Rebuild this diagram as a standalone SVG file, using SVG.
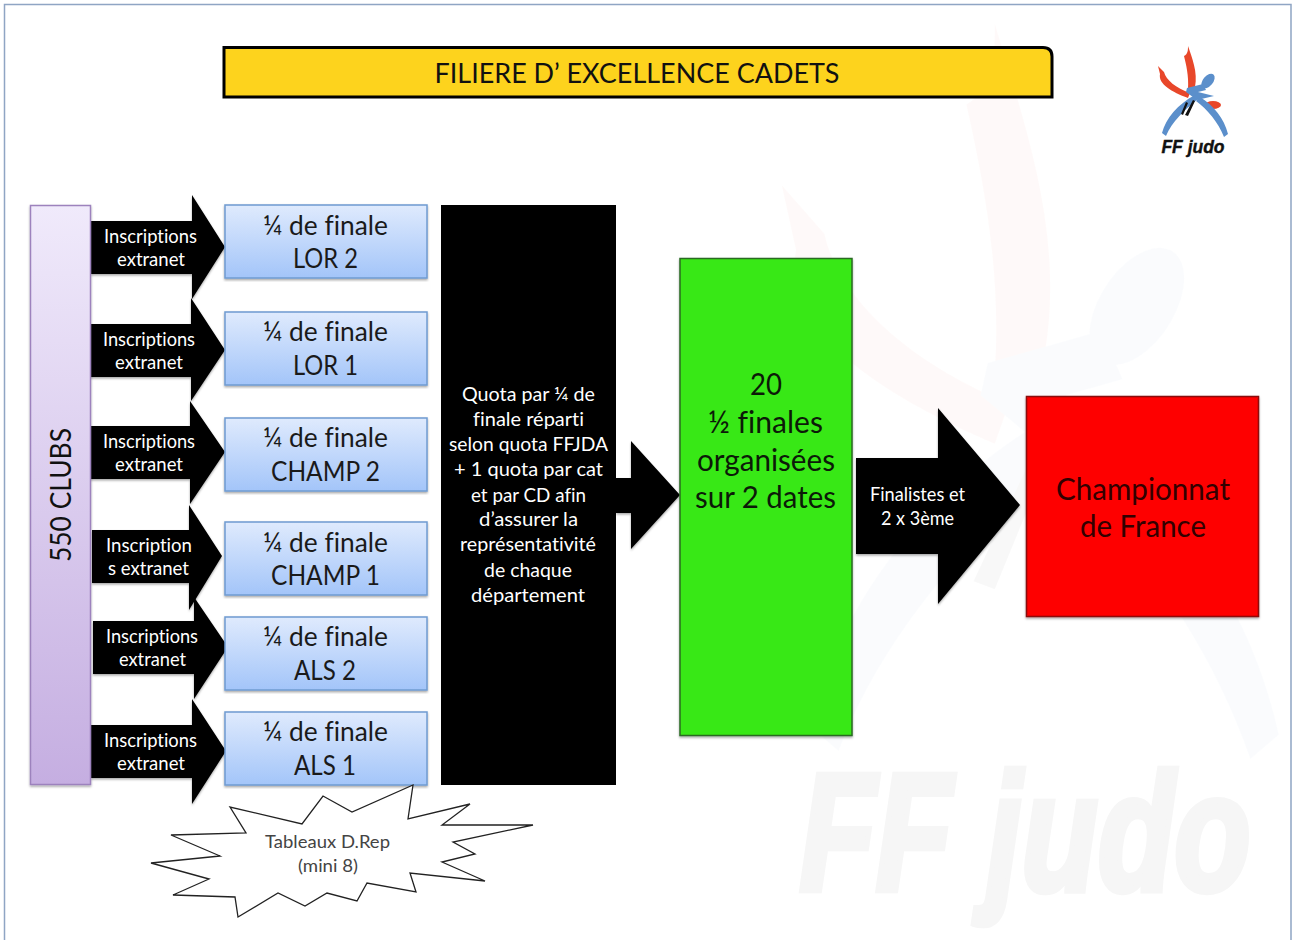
<svg xmlns="http://www.w3.org/2000/svg" width="1292" height="940" viewBox="0 0 1292 940">
<style>
text{font-family:"Lato","Carlito","Open Sans",sans-serif;text-anchor:middle;font-variant-ligatures:none}
.q{font-size:27px;fill:#1a1a1a}
.w{font-size:19px;fill:#fff}
.g{font-size:30px;fill:#0c1a08}
.box{fill:url(#blue);stroke:#6f9bd1;stroke-width:1.5;filter:url(#sh)}
.arrow{fill:#000;filter:url(#sh)}
.mark{font-family:"Liberation Sans",Arial,sans-serif;font-weight:bold;font-style:italic}
.red{fill:#e8472a}.bl{fill:#5b8fcb}
</style>
<defs>
<linearGradient id="blue" x1="0" y1="0" x2="0" y2="1"><stop offset="0" stop-color="#dfeafd"/><stop offset="1" stop-color="#a3c5f9"/></linearGradient>
<linearGradient id="purple" x1="0" y1="0" x2="0" y2="1"><stop offset="0" stop-color="#f0eafb"/><stop offset="1" stop-color="#c5aee1"/></linearGradient>
<filter id="sh" x="-5%" y="-5%" width="110%" height="110%"><feDropShadow dx="0" dy="1.5" stdDeviation="1.2" flood-color="#000" flood-opacity=".35"/></filter>
<g id="fig">
<path class="red" d="M1188 46C1192 58 1198 72 1195 87L1188 89C1189 76 1186 64 1184 56C1188 54 1188 50 1188 46Z"/>
<path class="red" d="M1158 66L1164 72C1166 80 1176 88 1190 93L1188 98C1172 92 1158 84 1160 74Z"/>
<ellipse class="bl" cx="1208" cy="81" rx="5" ry="8.500" transform="rotate(40 1208 81)"/>
<ellipse class="red" cx="1213" cy="105" rx="8" ry="4"/>
<path class="bl" d="M1187 88L1203 84L1206 90L1198 92L1214 96L1197 100L1186 92Z"/>
<path class="bl" d="M1162 133C1166 118 1178 104 1195 95L1198 99C1184 110 1172 122 1166 136Z"/>
<path class="bl" d="M1228 134L1224 137C1218 122 1208 110 1196 101L1200 97C1214 106 1224 118 1228 134Z"/>
<path d="M1185 115L1193 100L1195 101L1188 116ZM1183 115L1188 103L1186 102L1181 114Z" fill="#111"/>
</g>
</defs>
<rect width="1292" height="940" fill="#fff"/>
<path d="M4.500 940V4.500H1291V940" fill="none" stroke="#8fa5c4" stroke-width="1.500"/>
<g id="watermark" opacity=".025">
<use href="#fig" transform="translate(-7440 -348) scale(7.100 8.080)"/>
</g>
<text class="mark" transform="translate(1025 890) scale(1 1.330)" font-size="125" fill="#f6f6f6" stroke="#f6f6f6" stroke-width="5">FF judo</text>
<g id="logo"><use href="#fig"/><text class="mark" transform="translate(1193 153) scale(1 1.100)" font-size="17.500" fill="#111" stroke="#111" stroke-width=".4">FF judo</text></g>
<g id="title">
<path d="M224 47.500H1043Q1052 47.500 1052 56.500V97H224Z" fill="#fdd31d" stroke="#000" stroke-width="3"/>
<text x="637" y="83" font-size="27" fill="#111" textLength="405" lengthAdjust="spacingAndGlyphs">FILIERE D’ EXCELLENCE CADETS</text>
</g>
<g id="connectors">
<path class="arrow" d="M91 221H192V195L225 247L192 299V274H91Z"/>
<path class="arrow" d="M89 324H191V298L225 350L191 401V377H89Z"/>
<path class="arrow" d="M89 426H190V401L225 452L190 504V479H89Z"/>
<path class="arrow" d="M92 530H189V505L222 556L189 610V583H92Z"/>
<path class="arrow" d="M93 621H194V597L228 647L194 699V674H93Z"/>
<path class="arrow" d="M91 725H192V699L226 751L192 804V778H91Z"/>
<path class="arrow" d="M616 478H631V441L680 495L631 549V513H616Z"/>
<path class="arrow" d="M856 458H938V408L1020 505L938 604V554H856Z"/>
<g class="w">
<text x="150.500" y="243" textLength="93" lengthAdjust="spacingAndGlyphs">Inscriptions</text><text x="151" y="266" textLength="68" lengthAdjust="spacingAndGlyphs">extranet</text>
<text x="149" y="346" textLength="92" lengthAdjust="spacingAndGlyphs">Inscriptions</text><text x="149" y="369" textLength="68" lengthAdjust="spacingAndGlyphs">extranet</text>
<text x="149" y="448" textLength="92" lengthAdjust="spacingAndGlyphs">Inscriptions</text><text x="149" y="471" textLength="68" lengthAdjust="spacingAndGlyphs">extranet</text>
<text x="149" y="552" textLength="86" lengthAdjust="spacingAndGlyphs">Inscription</text><text x="148.500" y="575" textLength="81" lengthAdjust="spacingAndGlyphs">s extranet</text>
<text x="152" y="643" textLength="92" lengthAdjust="spacingAndGlyphs">Inscriptions</text><text x="152.500" y="666" textLength="67" lengthAdjust="spacingAndGlyphs">extranet</text>
<text x="150.500" y="747" textLength="93" lengthAdjust="spacingAndGlyphs">Inscriptions</text><text x="151" y="770" textLength="68" lengthAdjust="spacingAndGlyphs">extranet</text>
<text x="917.500" y="501" textLength="95" lengthAdjust="spacingAndGlyphs">Finalistes et</text><text x="917.500" y="525" textLength="73" lengthAdjust="spacingAndGlyphs">2 x 3ème</text>
</g>
</g>
<g id="clubs">
<rect x="30.500" y="205.500" width="60" height="579" fill="url(#purple)" stroke="#9d82bd" stroke-width="1.500" filter="url(#sh)"/>
<text transform="translate(71 495) rotate(-90)" font-size="28" fill="#111" textLength="134" lengthAdjust="spacingAndGlyphs">550 CLUBS</text>
</g>
<g id="q-lor2"><rect class="box" x="225" y="205" width="202" height="73"/><text class="q" x="325.500" y="235" textLength="125" lengthAdjust="spacingAndGlyphs">¼ de finale</text><text class="q" x="325.500" y="268" textLength="65" lengthAdjust="spacingAndGlyphs">LOR 2</text></g>
<g id="q-lor1"><rect class="box" x="225" y="312" width="202" height="73"/><text class="q" x="325.500" y="341" textLength="125" lengthAdjust="spacingAndGlyphs">¼ de finale</text><text class="q" x="325.500" y="375" textLength="65" lengthAdjust="spacingAndGlyphs">LOR 1</text></g>
<g id="q-champ2"><rect class="box" x="225" y="418" width="202" height="73"/><text class="q" x="325.500" y="447" textLength="125" lengthAdjust="spacingAndGlyphs">¼ de finale</text><text class="q" x="325.500" y="481" textLength="109" lengthAdjust="spacingAndGlyphs">CHAMP 2</text></g>
<g id="q-champ1"><rect class="box" x="225" y="522" width="202" height="73"/><text class="q" x="325.500" y="552" textLength="125" lengthAdjust="spacingAndGlyphs">¼ de finale</text><text class="q" x="325.500" y="585" textLength="109" lengthAdjust="spacingAndGlyphs">CHAMP 1</text></g>
<g id="q-als2"><rect class="box" x="225" y="617" width="202" height="73"/><text class="q" x="325.500" y="646" textLength="125" lengthAdjust="spacingAndGlyphs">¼ de finale</text><text class="q" x="325" y="680" textLength="62" lengthAdjust="spacingAndGlyphs">ALS 2</text></g>
<g id="q-als1"><rect class="box" x="225" y="712" width="202" height="73"/><text class="q" x="325.500" y="741" textLength="125" lengthAdjust="spacingAndGlyphs">¼ de finale</text><text class="q" x="325" y="775" textLength="62" lengthAdjust="spacingAndGlyphs">ALS 1</text></g>
<g id="quota">
<rect x="441" y="205" width="175" height="580" fill="#000"/>
<g class="w">
<text x="528.500" y="401" textLength="133" lengthAdjust="spacingAndGlyphs">Quota par ¼ de</text>
<text x="528.500" y="426" textLength="111" lengthAdjust="spacingAndGlyphs">finale réparti</text>
<text x="528.500" y="451" textLength="159" lengthAdjust="spacingAndGlyphs">selon quota FFJDA</text>
<text x="528.500" y="476" textLength="149" lengthAdjust="spacingAndGlyphs">+ 1 quota par cat</text>
<text x="528.500" y="502" textLength="115" lengthAdjust="spacingAndGlyphs">et par CD afin</text>
<text x="528.500" y="526" textLength="99" lengthAdjust="spacingAndGlyphs">d’assurer la</text>
<text x="528" y="551" textLength="136" lengthAdjust="spacingAndGlyphs">représentativité</text>
<text x="528" y="577" textLength="88" lengthAdjust="spacingAndGlyphs">de chaque</text>
<text x="528" y="602" textLength="114" lengthAdjust="spacingAndGlyphs">département</text>
</g>
</g>
<g id="demi">
<rect x="680" y="258.500" width="172" height="477" fill="#39e815" stroke="#2a6a20" stroke-width="1.500" filter="url(#sh)"/>
<text class="g" x="766" y="395" textLength="32" lengthAdjust="spacingAndGlyphs">20</text>
<text class="g" x="765.500" y="433" textLength="115" lengthAdjust="spacingAndGlyphs">½ finales</text>
<text class="g" x="766" y="471" textLength="138" lengthAdjust="spacingAndGlyphs">organisées</text>
<text class="g" x="765.500" y="508" textLength="141" lengthAdjust="spacingAndGlyphs">sur 2 dates</text>
</g>
<g id="championnat">
<rect x="1026.500" y="396.500" width="232" height="220" fill="#fe0000" stroke="#8a1010" stroke-width="1.500" filter="url(#sh)"/>
<text x="1143" y="500" font-size="30" fill="#300" textLength="174" lengthAdjust="spacingAndGlyphs">Championnat</text>
<text x="1143" y="537" font-size="30" fill="#300" textLength="126" lengthAdjust="spacingAndGlyphs">de France</text>
</g>
<g id="tableaux">
<path d="M413 785L408 819L470 804L442 825L533 825L453 842L475 854L442 862L485 881L410 873L416 892L367 883L357 901L327 893L305 906L278 893L238 917L235 897L173 895L209 879L151 863L220 856L171 835L246 833L230 807L302 824L323 796L352 812Z" fill="#fff" stroke="#222" stroke-width="1.300"/>
<text x="327.500" y="848" font-size="18" fill="#444" textLength="125" lengthAdjust="spacingAndGlyphs">Tableaux D.Rep</text>
<text x="328" y="872" font-size="18" fill="#444" textLength="60" lengthAdjust="spacingAndGlyphs">(mini 8)</text>
</g>
</svg>
